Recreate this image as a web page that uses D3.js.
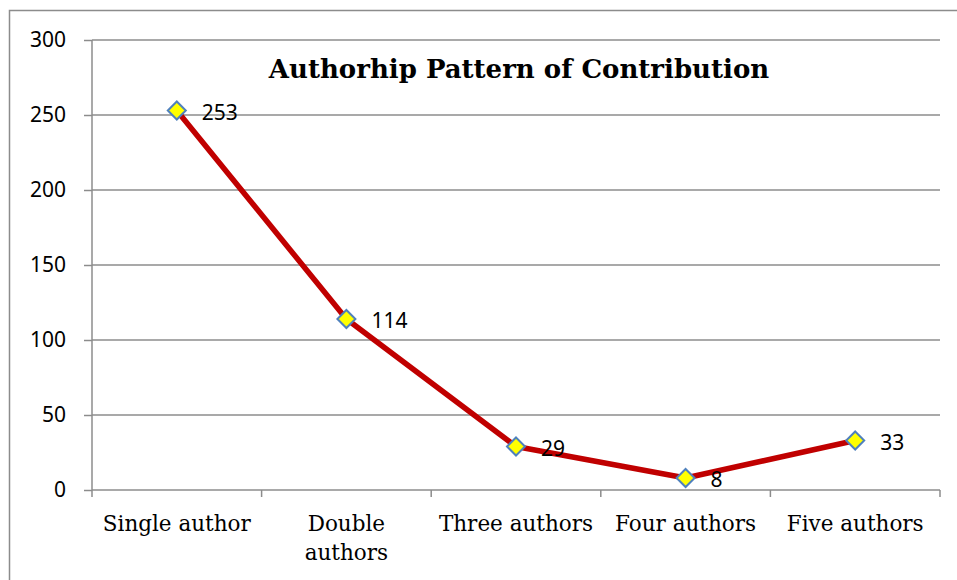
<!DOCTYPE html>
<html>
<head>
<meta charset="utf-8">
<script src="https://cdn.jsdelivr.net/npm/d3@7"></script>
<style>
  body { margin: 0; background: #fff; }
</style>
</head>
<body>
<script>
var w = 957;
var h = 580;
var categories = ['Single author', 'Double authors', 'Three authors', 'Four authors', 'Five authors'];
var values = [253, 114, 29, 8, 33];
var yTicks = [0, 50, 100, 150, 200, 250, 300];
var title = 'Authorhip Pattern of Contribution';

var margin = {left: 92, top: 40, right: 17, bottom: 90};

var svg = d3.select('body').append('svg').attr('width', w).attr('height', h);

// outer chart border (only left/top visible in the picture)
svg.append('rect')
  .attr('x', 9.5).attr('y', 10.5)
  .attr('width', w + 20).attr('height', h + 20)
  .attr('fill', 'none').attr('stroke', '#8c8c8c').attr('stroke-width', 1.5);

var x = d3.scaleBand().domain(categories).range([margin.left, w - margin.right]);
var y = d3.scaleLinear().domain([0, 300]).range([h - margin.bottom, margin.top]);

// gridlines
svg.append('g').selectAll('line')
  .data(yTicks.filter(function(d) { return d > 0; }))
  .enter().append('line')
  .attr('x1', margin.left).attr('x2', w - margin.right)
  .attr('y1', function(d) { return y(d); }).attr('y2', function(d) { return y(d); })
  .attr('stroke', '#8c8c8c').attr('stroke-width', 1.5);

// y axis
var yAxis = svg.append('g')
  .attr('transform', 'translate(' + margin.left + ',0)')
  .call(d3.axisLeft(y).tickValues(yTicks).tickSize(8).tickPadding(18));
yAxis.selectAll('line, path').attr('stroke', '#8c8c8c').attr('stroke-width', 1.5);
yAxis.select('.domain').attr('d', 'M0,' + y(300) + 'V' + y(0));
yAxis.selectAll('text')
  .attr('font-family', '"Noto Sans", "Open Sans", sans-serif')
  .attr('font-size', 21).attr('fill', '#000');

// x axis
var xAxis = svg.append('g')
  .attr('transform', 'translate(0,' + y(0) + ')')
  .call(d3.axisBottom(x).tickSize(0).tickPadding(0));
xAxis.select('.domain').attr('stroke', '#8c8c8c').attr('stroke-width', 1.5)
  .attr('d', 'M' + margin.left + ',0H' + (w - margin.right));
xAxis.selectAll('text').remove();
xAxis.selectAll('.tick line').remove();

var edges = categories.map(function(c) { return x(c); }).concat([w - margin.right]);
xAxis.selectAll('.edge').data(edges).enter().append('line')
  .attr('x1', function(d) { return d; }).attr('x2', function(d) { return d; })
  .attr('y1', 0).attr('y2', 7)
  .attr('stroke', '#8c8c8c').attr('stroke-width', 1.5);

// category labels (Double authors wraps)
var labelLines = {'Double authors': ['Double', 'authors']};
categories.forEach(function(c) {
  var lines = labelLines[c] || [c];
  var t = svg.append('text')
    .attr('x', x(c) + x.bandwidth() / 2)
    .attr('y', y(0) + 41)
    .attr('text-anchor', 'middle')
    .attr('font-family', '"DejaVu Serif", "Liberation Serif", serif')
    .attr('font-size', 21.5).attr('fill', '#000');
  lines.forEach(function(l, i) {
    t.append('tspan').attr('x', x(c) + x.bandwidth() / 2).attr('dy', i ? 29 : 0).text(l);
  });
});

// line
var line = d3.line()
  .x(function(d, i) { return x(categories[i]) + x.bandwidth() / 2; })
  .y(function(d) { return y(d); });

svg.append('path')
  .datum(values)
  .attr('d', line)
  .attr('fill', 'none')
  .attr('stroke', '#c00000')
  .attr('stroke-width', 5.5)
  .attr('stroke-linejoin', 'round');

// diamond markers
svg.selectAll('.marker')
  .data(values).enter().append('path')
  .attr('class', 'marker')
  .attr('transform', function(d, i) {
    return 'translate(' + (x(categories[i]) + x.bandwidth() / 2) + ',' + y(d) + ')';
  })
  .attr('d', 'M0,-9L9,0L0,9L-9,0Z')
  .attr('fill', '#ffff00')
  .attr('stroke', '#4f81bd')
  .attr('stroke-width', 2);

// data labels
svg.selectAll('.lbl')
  .data(values).enter().append('text')
  .attr('x', function(d, i) { return x(categories[i]) + x.bandwidth() / 2 + 25; })
  .attr('y', function(d) { return y(d) + 9; })
  .attr('font-family', '"Noto Sans", "Open Sans", sans-serif')
  .attr('font-size', 21).attr('fill', '#000')
  .text(function(d) { return d; });

// title
svg.append('text')
  .attr('x', 519).attr('y', 78)
  .attr('text-anchor', 'middle')
  .attr('font-family', '"DejaVu Serif", "Liberation Serif", serif')
  .attr('font-weight', 'bold')
  .attr('font-size', 26).attr('fill', '#000')
  .text(title);
</script>
</body>
</html>
